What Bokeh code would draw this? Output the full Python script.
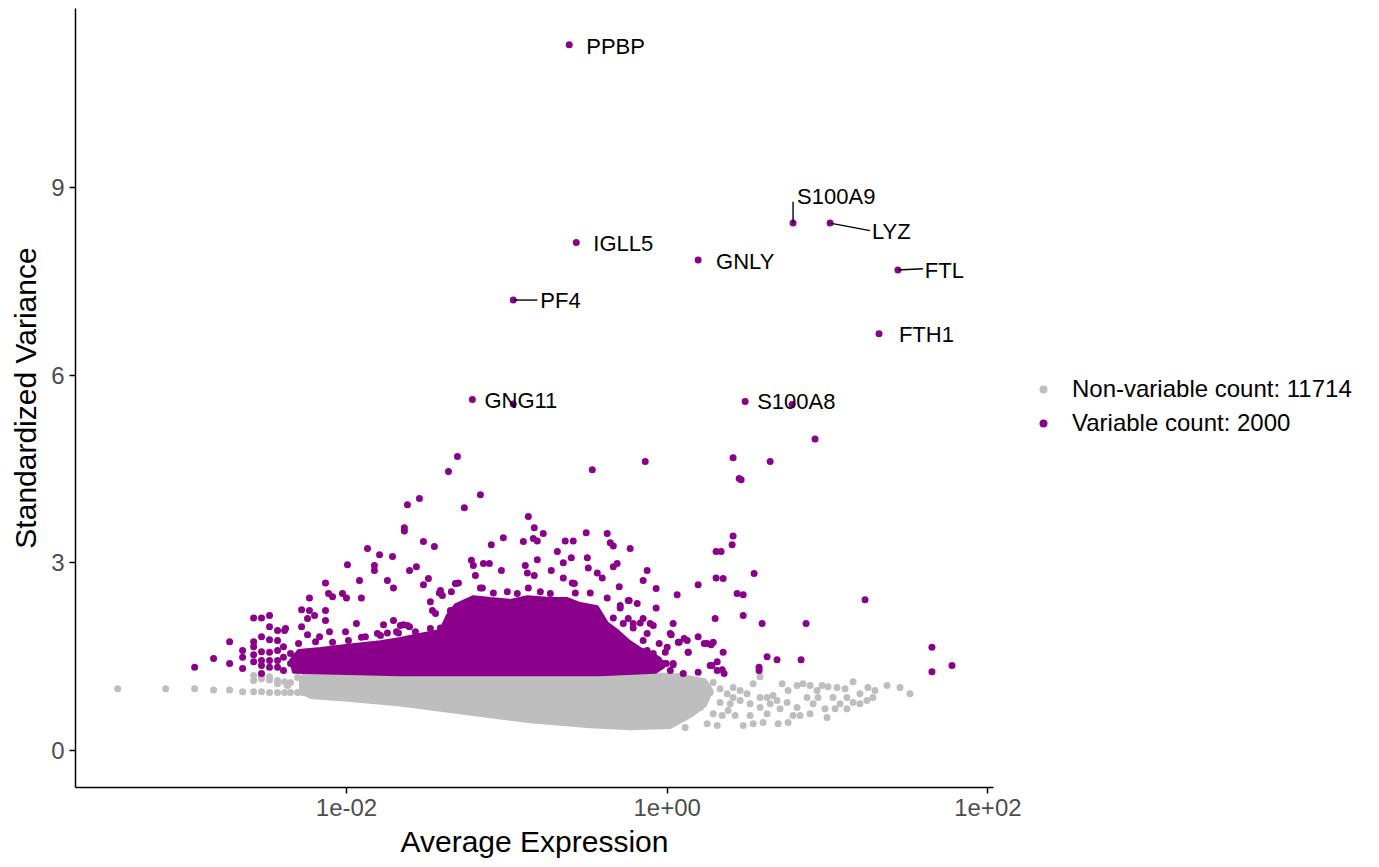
from bokeh.plotting import figure
from bokeh.models import Range1d, FixedTicker, Legend, LegendItem, ColumnDataSource
from bokeh.embed import file_html
from bokeh.resources import INLINE
from bokeh.core.properties import value

FONT = "Liberation Sans"
GREY = "#BEBEBE"
PURPLE = "#8B008B"

# ---------------------------------------------------------------- data
n_nonvariable = 11714
n_variable = 2000

# top-10 variable genes: log10 average expression, standardized variance
top_genes = ["PPBP", "S100A9", "LYZ", "FTL", "FTH1", "GNLY", "IGLL5", "PF4", "GNG11", "S100A8"]
top_log_mean = [-0.611, 0.785, 1.016, 1.439, 1.321, 0.193, -0.567, -0.960, -1.215, 0.486]
top_std_var = [11.28, 8.43, 8.43, 7.68, 6.66, 7.84, 8.12, 7.20, 5.61, 5.58]

# other variable genes (log10 average expression, standardized variance)
var_log_mean = [
    -1.308, -1.364, -0.467, -0.137, 0.411, 0.449, -1.620, -1.545, -1.165, -1.265,
    -1.639, -1.639, -1.520, -1.452, -0.866, -0.829, -0.773, -0.835, -0.810, -0.897,
    -1.022, -1.097, -0.505, -0.374, -0.355, -0.336, -0.636, -0.586, -0.685, -0.231,
    -0.598, -0.648, -0.810, -0.498, -0.492, -0.312, -0.336, -0.436, -0.405, -0.125,
    -0.150, -0.299, -0.069, 0.062, 0.193, 0.436, 0.474, 0.305, 0.336, 0.405,
    0.411, 0.305, 0.349, 0.299, -1.221, -1.209, -1.146, -1.109, -1.196, -1.034,
    -0.885, -0.872, -0.829, -0.723, -0.648, -0.592, -0.579, -1.489, -1.520, -1.620,
    -1.664, -1.315, -1.414, -1.477, -1.464, -1.445, -1.165, -1.346, -0.374, -0.293,
    -0.243, -0.187, -0.069, 0.037, 0.025, 0.075, 0.106, 0.131, 0.193, 0.231,
    0.287, 0.349, 0.100, 0.193, 0.280, 0.312, 0.343, 0.037, -0.050, -0.012,
    -0.125, -0.106, -0.062, -0.006, -0.168, -0.231, -0.243, -0.168, -0.106, -0.212,
    -2.947, -2.829, -2.729, -2.729, -2.648, -2.648, -2.648, -2.579, -2.530, -2.480,
    -2.579, -2.579, -2.579, -2.579, -2.530, -2.530, -2.530, -2.530, -2.530, -2.480,
    -2.480, -2.480, -2.480, -2.480, -2.430, -2.386, -2.430, -2.430, -2.430, -2.430,
    -2.393, -2.393, -2.393, -2.349, -2.349, -2.330, -2.280, -2.231, -2.199, -2.243,
    -2.280, -2.243, -2.231, -2.131, -2.131, -2.131, -2.112, -2.087, -2.025, -2.000,
    -1.994, -1.907, -1.919, -1.938, -2.006, -2.106, -2.168, -1.869, -1.794, -1.713,
    -1.826, -1.826, -1.745, -1.707, -1.769, -1.707, -1.745, -1.688, -1.645, -1.607,
    -1.607, -1.564, -1.807, -1.907, 0.922, 0.642, 0.461, 0.542, 1.234, 0.474,
    0.592, 0.866, 0.274, 0.623, 0.685, 0.835, 0.573, 0.573, 0.274, 0.312,
    0.355, 1.651, 1.651, 1.776, -0.960, 0.779,
    -1.321, -1.153, -1.084, -0.997, -0.935, -0.866, -0.791, -0.729, -0.698, -0.573,
    -0.480, -0.293, -0.237, -0.087, -0.150, -0.336, -0.274, -0.212, -0.125, 0.019,
    0.069, 0.125, 0.249, 0.131, 0.000, -0.150, -0.212, -0.087, -0.025, 0.037,
    0.019, -0.218, -0.118, 0.268, -1.333, -1.215, -1.121, -1.090, -1.259, -1.352,
    -1.421, -1.402, -1.302, -1.414, -2.380, -2.299, -2.193, -2.087, -1.988, -1.882,
    -1.788, -1.676, -1.570, -1.477,
]
var_std_var = [
    4.70, 4.46, 4.49, 4.62, 4.68, 4.35, 3.93, 4.03, 4.09, 3.88,
    3.51, 3.56, 3.34, 3.26, 3.74, 3.56, 3.47, 3.39, 3.35, 3.34,
    3.40, 3.29, 3.48, 3.47, 3.32, 3.27, 3.35, 3.35, 3.18, 3.23,
    3.08, 3.00, 3.05, 3.08, 2.92, 2.99, 2.94, 2.84, 2.76, 2.88,
    2.72, 2.62, 2.59, 2.49, 2.65, 2.51, 2.49, 3.18, 3.18, 3.29,
    3.43, 2.76, 2.75, 2.11, 3.04, 2.96, 2.99, 2.99, 2.80, 2.88,
    2.96, 2.84, 2.80, 2.88, 2.76, 2.68, 2.67, 2.75, 2.65, 2.00,
    2.00, 2.67, 2.56, 2.38, 2.24, 2.19, 2.60, 2.54, 2.44, 2.28,
    2.40, 2.35, 2.28, 2.03, 1.85, 1.73, 1.79, 1.57, 1.82, 1.71,
    1.73, 1.57, 1.23, 1.25, 1.36, 1.42, 1.29, 1.39, 1.71, 1.57,
    1.60, 1.49, 1.39, 1.39, 1.31, 1.29, 2.11, 2.04, 2.03, 1.96,
    1.33, 1.47, 1.74, 1.39, 1.60, 1.49, 1.31, 2.12, 2.12, 2.16,
    1.74, 1.66, 1.53, 1.42, 1.82, 1.58, 1.44, 1.36, 1.23, 1.98,
    1.77, 1.57, 1.44, 1.33, 1.92, 1.92, 1.76, 1.60, 1.44, 1.33,
    1.66, 1.49, 1.28, 1.55, 1.39, 1.44, 2.25, 2.24, 2.16, 2.11,
    1.98, 1.85, 2.44, 2.68, 2.24, 2.08, 2.51, 2.46, 2.51, 2.44,
    2.97, 2.44, 2.72, 2.03, 1.90, 1.90, 1.82, 3.23, 3.13, 3.10,
    2.96, 2.88, 2.72, 2.60, 2.01, 2.08, 1.88, 1.90, 2.01, 1.98,
    2.88, 2.94, 1.87, 1.81, 4.98, 4.62, 4.33, 2.83, 2.41, 2.16,
    2.03, 2.03, 1.69, 1.50, 1.45, 1.45, 1.33, 1.28, 1.36, 1.28,
    1.23, 1.65, 1.26, 1.36, 5.54, 5.53,
    2.67, 2.60, 2.52, 2.54, 2.51, 2.60, 2.54, 2.51, 2.40, 2.52,
    2.52, 2.32, 2.40, 2.00, 2.11, 2.12, 2.03, 2.03, 1.87, 1.87,
    1.73, 1.76, 1.71, 1.57, 1.65, 1.76, 1.63, 1.55, 1.39, 1.37,
    1.28, 1.31, 1.31, 1.36, 2.12, 2.12, 2.08, 2.11, 2.24, 2.24,
    2.52, 2.48, 2.68, 1.96, 1.95, 1.71, 1.74, 1.73, 1.76, 1.82,
    1.84, 1.88, 1.90, 1.95,
]

# outline of the densely packed variable genes
var_core_log_mean = [
    -2.330, -1.664, -1.040, -0.417, -0.075, -0.019, -0.044, -0.106, -0.168, -0.243,
    -0.312, -0.374, -0.436, -0.542, -0.623, -0.729, -0.872, -0.978, -1.103, -1.209,
    -1.321, -1.371, -1.414, -1.551, -1.664, -1.788, -1.963, -2.162, -2.299, -2.349,
]
var_core_std_var = [
    1.25, 1.21, 1.21, 1.21, 1.25, 1.34, 1.47, 1.57, 1.63, 1.76,
    1.92, 2.04, 2.30, 2.35, 2.43, 2.43, 2.46, 2.40, 2.43, 2.46,
    2.33, 2.16, 1.92, 1.85, 1.79, 1.74, 1.69, 1.63, 1.60, 1.44,
]

# non-variable genes outside the dense band
nonvar_log_mean = [
    -3.427, -3.128, -2.947, -2.829, -2.729, -2.648, -2.579, -2.530, -2.480, -2.430,
    -2.386, -2.349, -2.305, -2.274, -2.579, -2.579, -2.530, -2.530, -2.480, -2.480,
    -2.430, -2.386, -2.349, -2.305, -2.268, -2.430, -2.368,
    0.287, 0.237, 0.268, 0.330, 0.374, 0.411, 0.455, 0.498, 0.536, 0.579,
    0.579, 0.623, 0.660, 0.717, 0.754, 0.810, 0.847, 0.891, 0.935, 0.966,
    1.003, 1.059, 1.109, 1.159, 1.202, 1.252, 1.296, 1.371, 1.452, 1.514,
    0.206, 0.287, 0.343, 0.249, 0.312, 0.424, 0.474, 0.536, 0.598, 0.692,
    0.754, 0.579, 0.642, 0.704, 0.748, 0.810, 0.829, 0.872, 0.910, 0.941,
    0.984, 0.997, 1.047, 1.078, 1.121, 1.159, 1.202, 1.246, 1.283, 0.517,
    0.455, 0.393, 0.330, 0.411, 0.685, 0.623, 0.891, 0.517, 0.785, 0.380,
    1.034, 1.121, 0.112,
]
nonvar_std_var = [
    0.99, 0.99, 0.99, 0.97, 0.97, 0.94, 0.94, 0.94, 0.93, 0.93,
    0.93, 0.93, 0.93, 0.93, 1.20, 1.12, 1.20, 1.15, 1.18, 1.13,
    1.12, 1.10, 1.09, 1.17, 1.17, 1.07, 1.04,
    1.09, 1.01, 0.93, 0.99, 0.91, 1.01, 0.96, 0.91, 1.07, 1.18,
    0.85, 0.85, 0.88, 1.07, 0.96, 1.04, 1.07, 1.04, 0.96, 1.04,
    1.02, 1.01, 0.99, 1.10, 0.91, 1.01, 0.96, 1.04, 1.01, 0.91,
    0.69, 0.59, 0.56, 0.43, 0.40, 0.56, 0.40, 0.43, 0.45, 0.43,
    0.45, 0.69, 0.75, 0.67, 0.77, 0.69, 0.56, 0.85, 0.75, 0.85,
    0.67, 0.53, 0.67, 0.75, 0.67, 0.77, 0.75, 0.80, 0.85, 0.75,
    0.80, 0.75, 0.77, 0.85, 0.80, 0.59, 0.59, 0.56, 0.56, 0.64,
    0.85, 0.85, 0.37,
]

# outline of the densely packed non-variable genes
nonvar_core_log_mean = [
    -2.287, -2.162, -1.352, -0.417, 0.081, 0.237, 0.280, 0.237, 0.143, 0.019,
    -0.231, -0.480, -0.854, -1.246, -1.664, -1.975, -2.224, -2.287,
]
nonvar_core_std_var = [
    1.18, 1.25, 1.25, 1.25, 1.21, 1.13, 0.96, 0.72, 0.54, 0.37,
    0.35, 0.38, 0.46, 0.59, 0.73, 0.80, 0.85, 0.93,
]

# axis ticks
x_tick_values = [1e-2, 1e0, 1e2]
x_tick_labels = ["1e-02", "1e+00", "1e+02"]
y_tick_values = [0, 3, 6, 9]

# ---------------------------------------------------------------- label layout
label_at = {
    "PPBP": (-0.505, 11.26), "S100A9": (0.810, 8.85), "LYZ": (1.277, 8.29),
    "FTL": (1.607, 7.67), "FTH1": (1.445, 6.65), "GNLY": (0.305, 7.81),
    "IGLL5": (-0.461, 8.10), "PF4": (-0.791, 7.19), "GNG11": (-1.140, 5.59),
    "S100A8": (0.561, 5.58),
}
connector_to = {
    "S100A9": (0.785, 8.77), "LYZ": (1.265, 8.31),
    "FTL": (1.595, 7.70), "PF4": (-0.810, 7.20),
}


def unlog(vals):
    return [10 ** v for v in vals]


p = figure(
    frame_width=918, frame_height=779, x_axis_type="log",
    x_range=Range1d(10 ** -3.69, 10 ** 2.035), y_range=Range1d(-0.59, 11.86),
    output_backend="svg", toolbar_location=None,
    min_border_left=75, min_border_right=0, min_border_top=8, min_border_bottom=80,
)
p.outline_line_color = None
p.xgrid.visible = False
p.ygrid.visible = False
p.background_fill_color = "white"
p.border_fill_color = "white"

# non-variable genes
p.patch(unlog(nonvar_core_log_mean), nonvar_core_std_var, fill_color=GREY, line_color=GREY, line_width=3)
r_grey = p.scatter(unlog(nonvar_log_mean), nonvar_std_var, size=7, color=GREY, line_color=None)

# variable genes
p.patch(unlog(var_core_log_mean), var_core_std_var, fill_color=PURPLE, line_color=PURPLE, line_width=3)
r_var = p.scatter(unlog(var_log_mean), var_std_var, size=7, color=PURPLE, line_color=None)
p.scatter(unlog(top_log_mean), top_std_var, size=7, color=PURPLE, line_color=None)

# connectors and gene labels
idx = {g: i for i, g in enumerate(top_genes)}
seg = ColumnDataSource(dict(
    x0=[10 ** top_log_mean[idx[g]] for g in connector_to],
    y0=[top_std_var[idx[g]] for g in connector_to],
    x1=[10 ** connector_to[g][0] for g in connector_to],
    y1=[connector_to[g][1] for g in connector_to],
))
p.segment("x0", "y0", "x1", "y1", source=seg, line_color="black", line_width=1.4)

lab = ColumnDataSource(dict(
    x=[10 ** label_at[g][0] for g in top_genes],
    y=[label_at[g][1] for g in top_genes],
    text=top_genes,
))
p.text("x", "y", text="text", source=lab, text_font=value(FONT), text_font_size="22px",
       text_color="black", text_align="left", text_baseline="middle")

# axes
p.xaxis.ticker = FixedTicker(ticks=x_tick_values)
p.xaxis.major_label_overrides = {v: s for v, s in zip(x_tick_values, x_tick_labels)}
p.yaxis.ticker = FixedTicker(ticks=y_tick_values)
p.xaxis.axis_label = "Average Expression"
p.yaxis.axis_label = "Standardized Variance"
for ax in (p.xaxis[0], p.yaxis[0]):
    ax.axis_line_color = "black"
    ax.axis_line_width = 1.5
    ax.major_tick_line_color = "black"
    ax.major_tick_line_width = 1.5
    ax.major_tick_out = 6
    ax.major_tick_in = 0
    ax.minor_tick_line_color = None
    ax.major_label_text_font = FONT
    ax.major_label_text_font_size = "24px"
    ax.major_label_text_color = "#4D4D4D"
    ax.major_label_standoff = 5
    ax.axis_label_text_font = FONT
    ax.axis_label_text_font_size = "30px"
    ax.axis_label_text_font_style = "normal"
    ax.axis_label_text_color = "black"
    ax.axis_label_standoff = 6

legend = Legend(
    items=[
        LegendItem(label=f"Non-variable count: {n_nonvariable}", renderers=[r_grey]),
        LegendItem(label=f"Variable count: {n_variable}", renderers=[r_var]),
    ],
    location=(40, 350), margin=0, padding=0, spacing=6,
    border_line_color=None, background_fill_alpha=0,
    glyph_width=20, glyph_height=28, label_height=28, label_standoff=19,
    label_text_font=FONT, label_text_font_size="24px", label_text_color="black",
)
p.add_layout(legend, "right")

open("out.html", "w").write(file_html(p, INLINE))
